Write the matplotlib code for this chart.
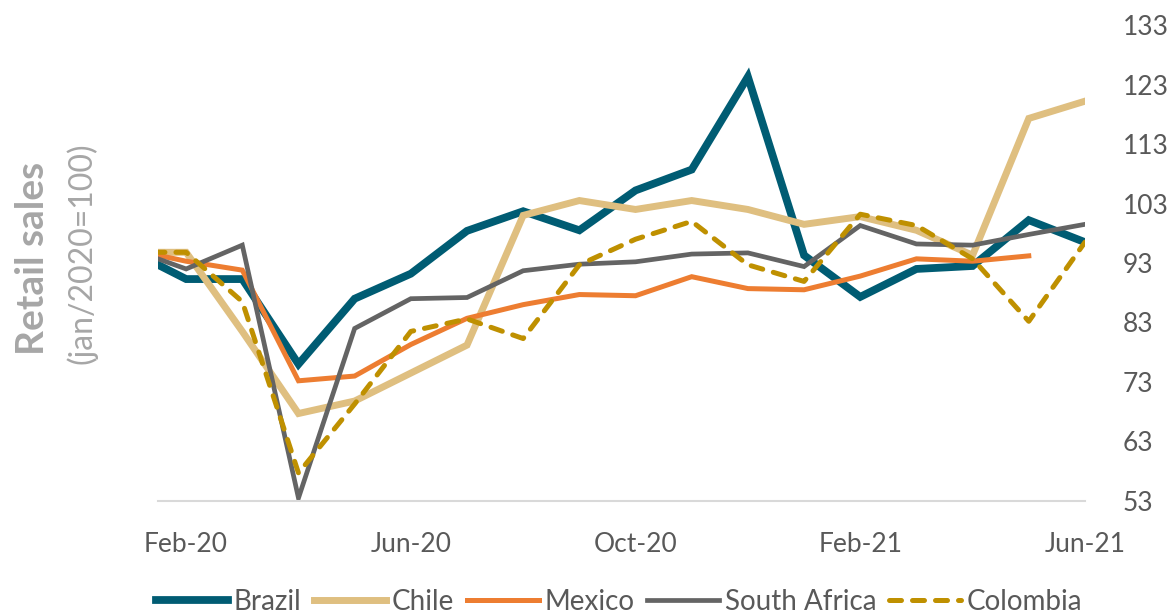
import numpy as np
import matplotlib.pyplot as plt

months = ["Jan-20", "Feb-20", "Mar-20", "Apr-20", "May-20", "Jun-20", "Jul-20", "Aug-20",
          "Sep-20", "Oct-20", "Nov-20", "Dec-20", "Jan-21", "Feb-21", "Mar-21", "Apr-21",
          "May-21", "Jun-21"]

brazil = [95.1, 90.3, 90.3, 76.0, 87.0, 91.2, 98.4, 101.7, 98.5, 105.2, 108.7, 124.3,
          94.3, 87.3, 92.0, 92.5, 100.2, 96.5]
chile = [94.8, 94.8, 81.5, 67.7, 69.8, 74.5, 79.2, 101.0, 103.5, 102.0, 103.5, 102.0,
         99.5, 100.8, 98.5, 94.3, 117.3, 120.2]
mexico = [95.3, 93.3, 91.8, 73.2, 74.0, 79.3, 83.7, 86.0, 87.7, 87.5, 90.7, 88.7,
          88.5, 90.8, 93.7, 93.3, 94.2, np.nan]
south_africa = [95.4, 92.0, 96.0, 53.5, 82.0, 87.0, 87.2, 91.7, 92.8, 93.2, 94.5, 94.7,
                92.4, 99.3, 96.2, 96.0, 97.8, 99.5]
colombia = [94.8, 94.8, 86.5, 57.7, 69.3, 81.5, 83.6, 80.3, 92.7, 97.0, 100.0, 92.7,
            89.9, 101.2, 99.3, 93.7, 83.2, 96.5]

yticks = [53, 63, 73, 83, 93, 103, 113, 123, 133]
shown = ["Feb-20", "Jun-20", "Oct-20", "Feb-21", "Jun-21"]

plt.rcParams['font.family'] = ['Lato', 'DejaVu Sans']
txt = '#595959'

fig = plt.figure(figsize=(11.68, 6.15), dpi=100)
ax = fig.add_axes([0.1353, 0.1854, 0.7936, 0.7739])

x = np.arange(len(months)) - 1

ax.plot(x, brazil, color='#005C73', lw=5.6, label='Brazil', solid_joinstyle='miter')
ax.plot(x, chile, color='#DFBF80', lw=5.0, label='Chile', solid_joinstyle='miter')
ax.plot(x, mexico, color='#ED7D31', lw=3.6, label='Mexico', solid_joinstyle='miter')
ax.plot(x, south_africa, color='#646464', lw=3.4, label='South Africa', solid_joinstyle='miter')
ax.plot(x, colombia, color='#BF9000', lw=3.6, ls=(0, (2.4, 2.2)), label='Colombia',
        dash_capstyle='round')

ax.set_xlim(-0.5, 16)
ax.set_ylim(53, 133)
ax.set_yticks(yticks)
ax.yaxis.tick_right()
ax.set_xticks([months.index(m) - 1 for m in shown])
ax.set_xticklabels(shown)
ax.tick_params(axis='both', length=0, labelsize=19, colors=txt)
ax.tick_params(axis='y', pad=27)
ax.tick_params(axis='x', pad=22)

for s in ['top', 'left', 'right']:
    ax.spines[s].set_visible(False)
ax.spines['bottom'].set_color('#D9D9D9')
ax.spines['bottom'].set_linewidth(1.5)

fig.text(0.028, 0.58, 'Retail sales', rotation=90, ha='center', va='center',
         fontsize=28, fontweight='bold', color='#A6A6A6')
fig.text(0.07, 0.588, '(jan/2020=100)', rotation=90, ha='center', va='center',
         fontsize=23, color='#A6A6A6')

leg = fig.legend(loc='lower center', bbox_to_anchor=(0.53, -0.04), ncol=5, frameon=False,
                 fontsize=20, handlelength=2.6, columnspacing=0.45, handletextpad=0.2)
for t in leg.get_texts():
    t.set_color(txt)

fig.savefig('out.png', dpi=100)
